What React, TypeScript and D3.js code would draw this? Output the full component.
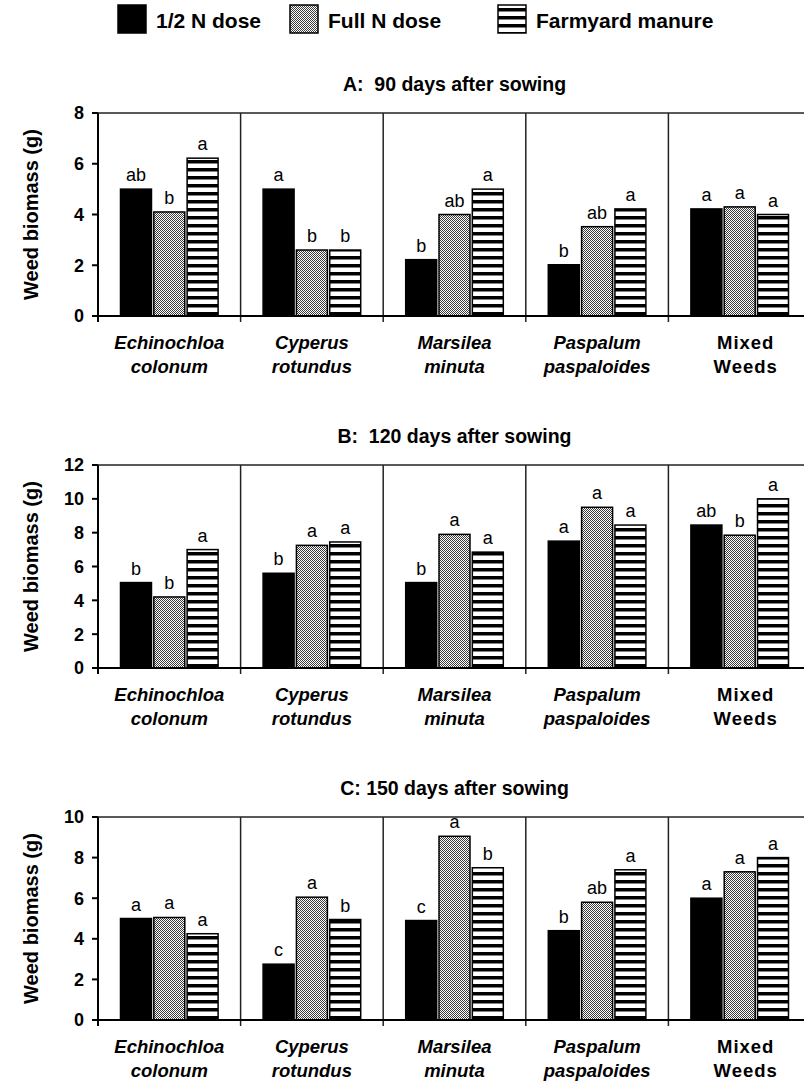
import React from "react";
import * as d3 from "d3";

// categories (two text lines each)
const catLine1 = ["Echinochloa", "Cyperus", "Marsilea", "Paspalum", "Mixed"];
const catLine2 = ["colonum", "rotundus", "minuta", "paspaloides", "Weeds"];
const catItalic = [true, true, true, true, false];

const seriesNames = ["1/2 N dose", "Full N dose", "Farmyard manure"];

// A: 90 days after sowing
const a90Half = [5.0, 5.0, 2.22, 2.02, 4.22];
const a90Full = [4.1, 2.6, 4.0, 3.52, 4.3];
const a90Fym = [6.22, 2.6, 5.0, 4.22, 4.0];
const a90Letters = [
	["ab", "b", "a"],
	["a", "b", "b"],
	["b", "ab", "a"],
	["b", "ab", "a"],
	["a", "a", "a"],
];

// B: 120 days after sowing
const b120Half = [5.05, 5.6, 5.05, 7.5, 8.45];
const b120Full = [4.2, 7.25, 7.9, 9.5, 7.85];
const b120Fym = [7.0, 7.45, 6.85, 8.45, 10.0];
const b120Letters = [
	["b", "b", "a"],
	["b", "a", "a"],
	["b", "a", "a"],
	["a", "a", "a"],
	["ab", "b", "a"],
];

// C: 150 days after sowing
const c150Half = [5.0, 2.75, 4.9, 4.4, 6.0];
const c150Full = [5.05, 6.05, 9.05, 5.8, 7.3];
const c150Fym = [4.25, 4.95, 7.5, 7.4, 8.0];
const c150Letters = [
	["a", "a", "a"],
	["c", "a", "b"],
	["c", "a", "b"],
	["b", "ab", "a"],
	["a", "a", "a"],
];

const yTicksA = [0, 2, 4, 6, 8];
const yTicksB = [0, 2, 4, 6, 8, 10, 12];
const yTicksC = [0, 2, 4, 6, 8, 10];

const FONT = "'Liberation Sans', Arial, sans-serif";
const fills = ["#000", "url(#dots)", "url(#stripes)"];

const X0 = 98;
const X1 = 811;
const PH = 203;

interface PanelProps {
	top: number;
	title: string;
	ticks: number[];
	series: number[][];
	letters: string[][];
}

const Panel: React.FC<PanelProps> = ({top, title, ticks, series, letters}) => {
	const x = d3.scaleBand<number>().domain(d3.range(catLine1.length)).range([X0, X1]).padding(0);
	const inner = d3
		.scaleBand<number>()
		.domain([0, 1, 2])
		.range([22.5, x.bandwidth() - 22.5])
		.paddingInner(0.07);
	const y = d3
		.scaleLinear()
		.domain([0, d3.max(ticks) || 1])
		.range([top + PH, top]);
	const bottom = top + PH;

	return (
		<g>
			<text
				x={(X0 + X1) / 2}
				y={top - 22}
				textAnchor="middle"
				fontSize={19.5}
				fontWeight="bold"
				style={{whiteSpace: "pre"}}
			>
				{title}
			</text>
			<text
				transform={`translate(38, ${top + PH / 2}) rotate(-90)`}
				textAnchor="middle"
				fontSize={20}
				fontWeight="bold"
			>
				Weed biomass (g)
			</text>
			{/* top border */}
			<line x1={X0} x2={X1} y1={top} y2={top} stroke="#222" strokeWidth={1.5} />
			{/* category dividers, also the x ticks */}
			{d3.range(1, catLine1.length).map((i) => (
				<line
					key={i}
					x1={x(i)}
					x2={x(i)}
					y1={top}
					y2={bottom + 6}
					stroke="#222"
					strokeWidth={1.5}
				/>
			))}
			{/* bars */}
			{series.map((vals, s) =>
				vals.map((v, i) => (
					<rect
						key={`${s}-${i}`}
						x={(x(i) || 0) + (inner(s) || 0)}
						y={y(v)}
						width={inner.bandwidth()}
						height={bottom - y(v)}
						fill={fills[s]}
						stroke="#000"
						strokeWidth={1.5}
					/>
				)),
			)}
			{/* letters */}
			{series.map((vals, s) =>
				vals.map((v, i) => (
					<text
						key={`l${s}-${i}`}
						x={(x(i) || 0) + (inner(s) || 0) + inner.bandwidth() / 2}
						y={y(v) - 8}
						textAnchor="middle"
						fontSize={18}
					>
						{letters[i][s]}
					</text>
				)),
			)}
			{/* y axis */}
			<line x1={X0} x2={X0} y1={top} y2={bottom + 6} stroke="#000" strokeWidth={2} />
			{ticks.map((t) => (
				<g key={t}>
					<line x1={X0 - 6} x2={X0} y1={y(t)} y2={y(t)} stroke="#000" strokeWidth={2} />
					<text
						x={X0 - 14}
						y={y(t)}
						dy="0.36em"
						textAnchor="end"
						fontSize={18}
						fontWeight="bold"
					>
						{t}
					</text>
				</g>
			))}
			{/* x axis */}
			<line x1={X0} x2={X1} y1={bottom} y2={bottom} stroke="#000" strokeWidth={2} />
			{catLine1.map((c, i) => {
				const cx = (x(i) || 0) + x.bandwidth() / 2 + (catItalic[i] ? 0 : 6);
				return (
					<text
						key={c}
						x={cx}
						textAnchor="middle"
						fontSize={18.5}
						fontWeight="bold"
						fontStyle={catItalic[i] ? "italic" : "normal"}
						letterSpacing={catItalic[i] ? 0 : 1}
					>
						<tspan x={cx} y={bottom + 33}>
							{c}
						</tspan>
						<tspan x={cx} y={bottom + 57}>
							{catLine2[i]}
						</tspan>
					</text>
				);
			})}
		</g>
	);
};

const legendX = [118, 290, 498];

export default function App() {
	return (
		<svg
			width={804}
			height={1082}
			style={{position: "absolute", left: 0, top: 0, background: "#fff"}}
			fontFamily={FONT}
		>
			<defs>
				<pattern id="dots" width={2} height={2} patternUnits="userSpaceOnUse">
					<rect width={2} height={2} fill="#fff" />
					<rect width={1} height={1} fill="#3a3a3a" />
					<rect x={1} y={1} width={1} height={1} fill="#3a3a3a" />
				</pattern>
				<pattern id="stripes" width={8} height={8} patternUnits="userSpaceOnUse">
					<rect width={8} height={8} fill="#fff" />
					<rect width={8} height={3.5} fill="#000" />
				</pattern>
			</defs>
			<rect width={804} height={1082} fill="#fff" />
			{/* legend */}
			{seriesNames.map((n, s) => (
				<g key={n}>
					<rect
						x={legendX[s]}
						y={5}
						width={28}
						height={28}
						fill={fills[s]}
						stroke="#000"
						strokeWidth={1.5}
					/>
					<text x={legendX[s] + 38} y={28} fontSize={21} fontWeight="bold">
						{n}
					</text>
				</g>
			))}
			<Panel
				top={113}
				title="A:  90 days after sowing"
				ticks={yTicksA}
				series={[a90Half, a90Full, a90Fym]}
				letters={a90Letters}
			/>
			<Panel
				top={465}
				title="B:  120 days after sowing"
				ticks={yTicksB}
				series={[b120Half, b120Full, b120Fym]}
				letters={b120Letters}
			/>
			<Panel
				top={817}
				title="C: 150 days after sowing"
				ticks={yTicksC}
				series={[c150Half, c150Full, c150Fym]}
				letters={c150Letters}
			/>
		</svg>
	);
}
